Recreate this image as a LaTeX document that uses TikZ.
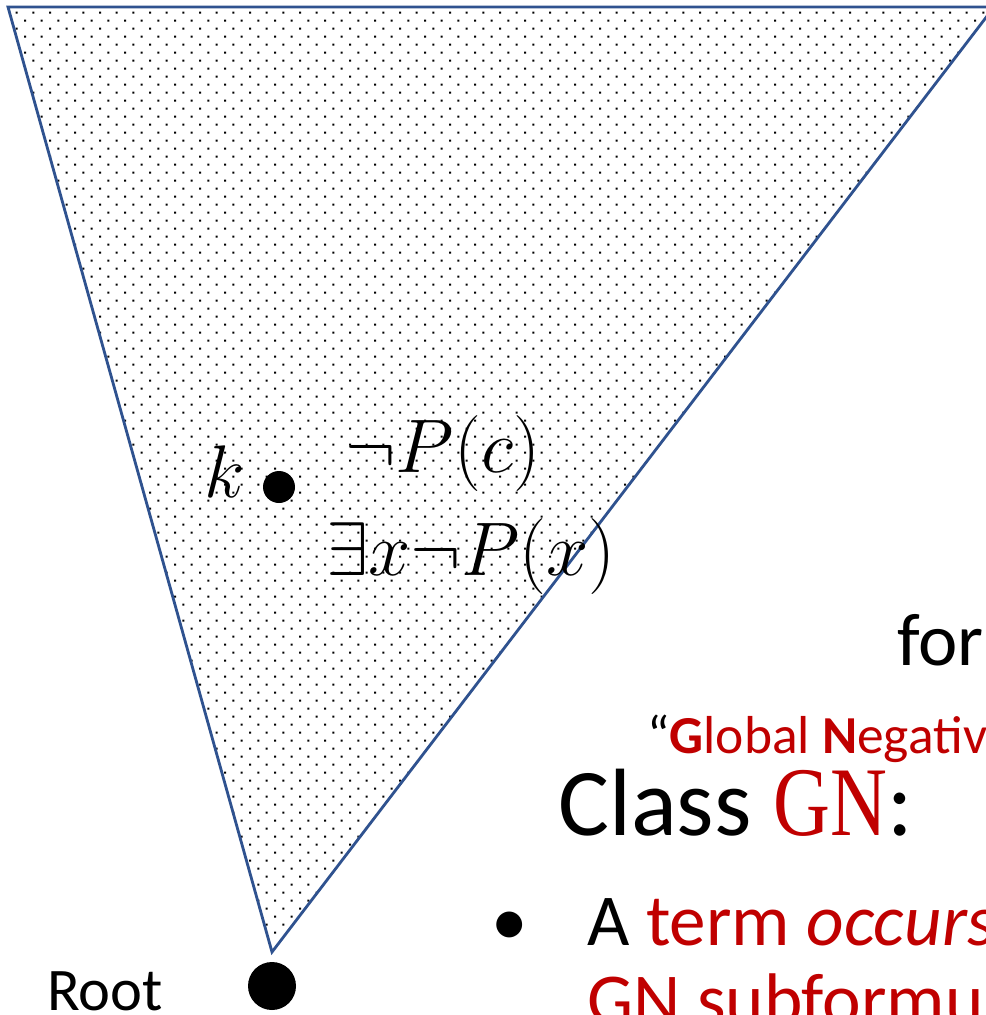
\RequirePackage{fix-cm}
\documentclass[tikz,border=0pt]{standalone}
\usepackage{fontspec}
\setmainfont{Carlito}
\newfontfamily\gnfont[FakeStretch=0.8]{Liberation Serif}
\definecolor{edgeblue}{RGB}{47,82,143}
\definecolor{gnred}{RGB}{192,0,0}

\begin{document}
\begin{tikzpicture}[x=0.025cm, y=-0.025cm,
    txt/.style={anchor=base west, inner sep=0pt},
    leaf/.style={circle, fill=black, inner sep=0pt}]
    % Fix the size of the picture
    \useasboundingbox (0,0) rectangle (986,1015);
    \clip (0,0) rectangle (986,1015);

    % Define the points of the triangle
    \coordinate (A) at (8,7);
    \coordinate (B) at (994,7);
    \coordinate (C) at (272,952);

    % Fill the triangle with dots, one row at a time
    \begin{scope}
        \clip (A) -- (B) -- (C) -- cycle;
        \foreach \j in {0,...,118} {
            \fill foreach \i in {0,...,60} {
                ({16.667*\i+8.333*mod(\j,2)-1}, {12.7+8*\j-1}) rectangle ++(2,2)
            };
        }
    \end{scope}

    % Draw the triangle
    \draw[edgeblue, line width=2pt, line join=miter] (A) -- (B) -- (C) -- cycle;

    % Place the nodes
    \node[leaf, minimum size=32*0.025cm] (k) at (279,487) {};
    \node[leaf, minimum size=48*0.025cm] (root) at (272,986) {};

    % Place the labels of the nodes
    \node[txt, font=\fontsize{53}{64}\selectfont] (klabel) at (204,497) {$k$};
    \node[txt, font=\fontsize{43}{52}\selectfont] (rootlabel) at (47,1010) {Root};

    % Place the formulas at k
    \node[txt, font=\fontsize{54}{64}\selectfont] (negpc) at (345,472) {$\neg P(c)$};
    \node[txt, font=\fontsize{54}{64}\selectfont] (exnegpx) at (326,575) {$\exists x\neg P(x)$};

    % Place the text on the right
    \node[txt, font=\fontsize{53}{64}\selectfont] (fortext) at (897,665) {for};
    \node[txt, font=\fontsize{38}{46}\selectfont] (globalneg) at (647,753)
        {``\textcolor{gnred}{\textbf{G}lobal \textbf{N}egativ}};
    \node[txt, font=\fontsize{68}{80}\selectfont] (classgn) at (558,835)
        {Class {\fontsize{70}{80}\selectfont\gnfont\color{gnred}GN}:};
    \node[txt, font=\fontsize{52}{62}\selectfont] (bullet) at (491,945) {\textbullet};
    \node[txt, font=\fontsize{52}{62}\selectfont] (termline) at (587,945)
        {A \textcolor{gnred}{term \textit{occurs}}};
    \node[txt, font=\fontsize{52}{62}\selectfont, text=gnred] (subline) at (587,1024)
        {GN subformu};

\end{tikzpicture}
\end{document}
